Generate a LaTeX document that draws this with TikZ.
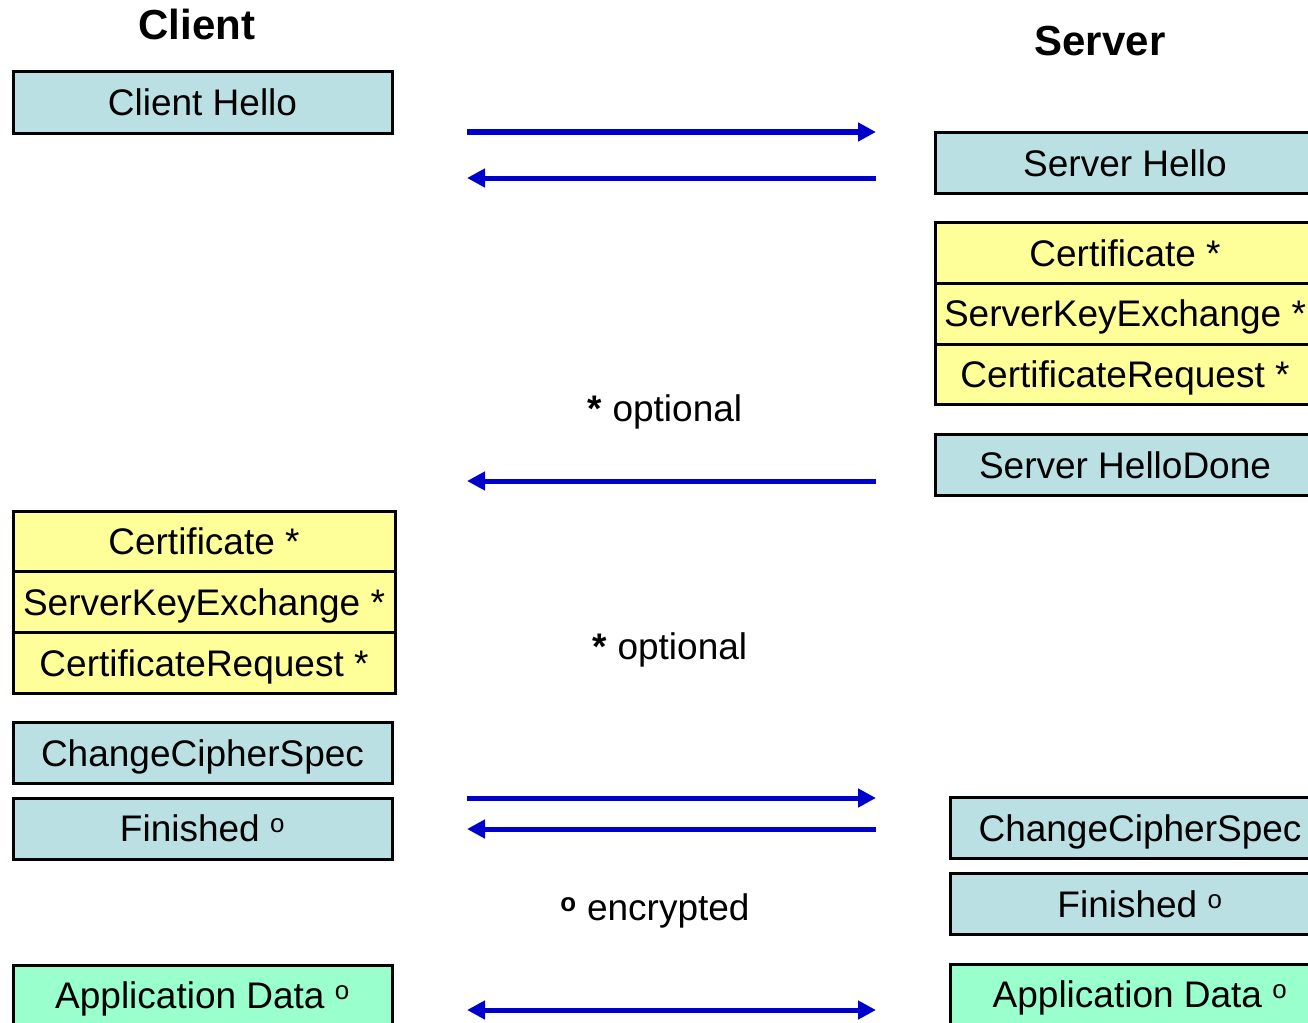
\documentclass[tikz,border=0pt]{standalone}
\usepackage{fontspec}
\setmainfont{Liberation Sans}
\usepackage{xcolor}
\usetikzlibrary{positioning}
\usetikzlibrary{arrows.meta}
\definecolor{msgblue}{HTML}{BBE0E3}
\definecolor{optyellow}{HTML}{FFFF99}
\definecolor{appgreen}{HTML}{99FFCC}
\definecolor{arrowblue}{HTML}{0000CC}
\tikzstyle{msgbox} = [draw=black, fill=msgblue, line width=3pt,
rectangle, inner sep=0pt, outer sep=0pt, minimum width=379pt, minimum height=61pt,
text height=26.5pt, text depth=0pt, font=\fontsize{37}{44}\selectfont]
\tikzstyle{optbox} = [msgbox, fill=optyellow, minimum height=60.7pt]
\tikzstyle{appbox} = [msgbox, fill=appgreen]
\tikzstyle{sidetitle} = [inner sep=0pt, text height=30pt, text depth=0pt,
font=\fontsize{42}{50}\selectfont\bfseries]
\tikzstyle{note} = [inner sep=0pt, text height=26.5pt, text depth=0pt,
font=\fontsize{37}{44}\selectfont]
\tikzstyle{msgarrow} = [arrowblue, line width=5pt, >={Triangle[length=18pt,width=18pt]}]

\begin{document}
\begin{tikzpicture}[x=1pt, y=-1pt]
        \useasboundingbox (0,0) rectangle (1308,1022);
        \clip (0,0) rectangle (1308,1022);
        % titles
        \node[sidetitle] (client) at (197,25) {Client};
        \node[sidetitle] (server) at (1100,41) {Server};
        % client side
        \node[msgbox] (chello) at (202.5,102.5) {Client Hello};
        \node[optbox, minimum width=382pt] (ccert) at (204,541.5) {Certificate *};
        \node[optbox, minimum width=382pt, below=0pt of ccert] (ckey) {ServerKeyExchange *};
        \node[optbox, minimum width=382pt, below=0pt of ckey] (creq) {CertificateRequest *};
        \node[msgbox] (cccs) at (202.5,753) {ChangeCipherSpec};
        \node[msgbox] (cfin) at (202.5,828.5) {Finished \textsuperscript{o}};
        \node[appbox] (capp) at (202.5,995.5) {Application Data \textsuperscript{o}};
        % server side
        \node[msgbox, minimum width=380pt] (shello) at (1125,163) {Server Hello};
        \node[optbox, minimum width=380pt] (scert) at (1125,253) {Certificate *};
        \node[optbox, minimum width=380pt, below=0pt of scert] (skey) {ServerKeyExchange *};
        \node[optbox, minimum width=380pt, below=0pt of skey] (sreq) {CertificateRequest *};
        \node[msgbox, minimum width=380pt] (sdone) at (1125,465) {Server HelloDone};
        \node[msgbox, minimum width=380pt] (sccs) at (1140,828) {ChangeCipherSpec};
        \node[msgbox, minimum width=380pt] (sfin) at (1140,904) {Finished \textsuperscript{o}};
        \node[appbox, minimum width=380pt] (sapp) at (1140,994.5) {Application Data \textsuperscript{o}};
        % notes
        \node[note] (opt1) at (665,408) {\textbf{*} optional};
        \node[note] (opt2) at (670,646) {\textbf{*} optional};
        \node[note] (enc) at (655,907) {\textbf{\textsuperscript{o}} encrypted};
        % arrow ends
        \coordinate (helloL) at (467,132);  \coordinate (helloR) at (876,132);
        \coordinate (shelloL) at (467,178); \coordinate (shelloR) at (876,178);
        \coordinate (doneL) at (467,481);   \coordinate (doneR) at (876,481);
        \coordinate (cfinL) at (467,798);   \coordinate (cfinR) at (876,798);
        \coordinate (sfinL) at (467,829);   \coordinate (sfinR) at (876,829);
        \coordinate (appL) at (467,1010);   \coordinate (appR) at (876,1010);
        \draw[msgarrow, ->] (helloL) -- (helloR);
        \draw[msgarrow, ->] (shelloR) -- (shelloL);
        \draw[msgarrow, ->] (doneR) -- (doneL);
        \draw[msgarrow, ->] (cfinL) -- (cfinR);
        \draw[msgarrow, ->] (sfinR) -- (sfinL);
        \draw[msgarrow, <->] (appL) -- (appR);
    \end{tikzpicture}
\end{document}
